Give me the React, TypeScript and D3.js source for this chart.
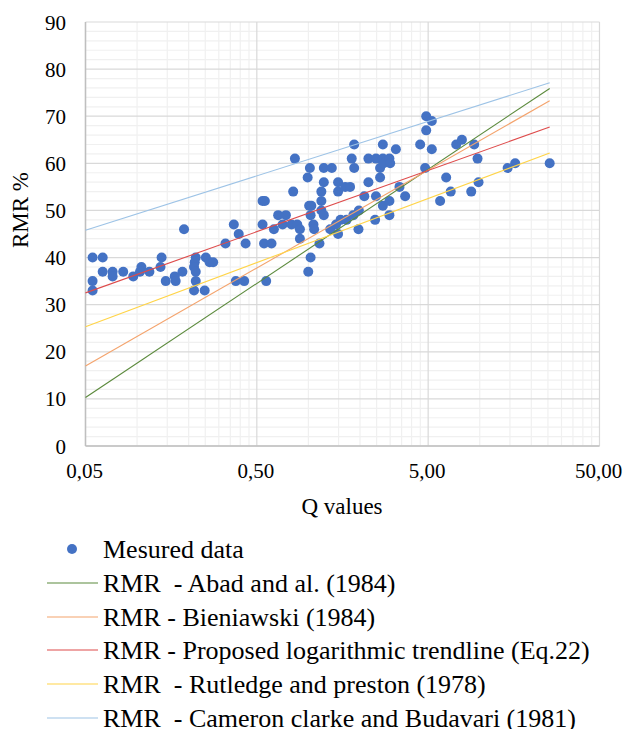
import React from 'react';
import * as d3 from 'd3';

// measured points (Q, RMR)
const qValues = [
  0.055, 0.063, 0.063, 0.072, 0.072, 0.083, 0.055, 0.055, 0.095, 0.106,
  0.104, 0.118, 0.139, 0.137, 0.147, 0.166, 0.168, 0.184, 0.188, 0.22,
  0.217, 0.215, 0.22, 0.22, 0.215, 0.248, 0.252, 0.265, 0.278, 0.328,
  0.367, 0.392, 0.43, 0.377, 0.422, 0.567, 0.54, 0.557, 0.54, 0.551,
  0.609, 0.629, 0.666, 0.739, 0.707, 0.797, 0.834, 0.815, 0.861, 0.892,
  0.892, 0.998, 1.03, 0.99, 1.02, 1.01, 1.04, 1.03, 1.07, 1.08,
  1.16, 1.19, 1.19, 1.19, 1.23, 1.23, 1.23, 1.34, 1.37, 1.45,
  1.49, 1.49, 1.49, 1.54, 1.64, 1.67, 1.75, 1.79, 1.83, 1.85,
  1.85, 1.96, 1.97, 2.12, 2.24, 2.24, 2.45, 2.48, 2.48, 2.62,
  2.62, 2.72, 2.72, 2.75, 2.72, 2.97, 3.0, 2.97, 2.97, 3.24,
  3.4, 3.67, 4.49, 4.87, 5.25, 4.87, 4.8, 5.25, 5.87, 6.37,
  6.77, 7.29, 7.87, 8.92, 9.28, 9.71, 9.84, 14.55, 16.1, 25.6,
];
const rmrValues = [
  40, 40, 37, 37, 36, 37, 35, 33, 36, 38,
  37, 37, 40, 38, 35, 36, 35, 37, 46, 40,
  39, 38, 37, 35, 33, 33, 40, 39, 39, 43,
  47, 45, 43, 35, 35, 35, 52, 52, 47, 43,
  43, 46, 49, 49, 47, 47, 61, 54, 47, 46,
  44, 37, 40, 57, 59, 51, 51, 49, 47, 46,
  43, 52, 50, 54, 49, 59, 56, 46, 59, 47,
  45, 56, 54, 48, 55, 48, 55, 61, 49, 64,
  59, 46, 50, 53, 61, 56, 48, 61, 53, 59,
  57, 64, 61, 60, 51, 61, 60, 52, 49, 63,
  55, 53, 64, 70, 69, 67, 59, 63, 52, 57,
  54, 64, 65, 54, 64, 61, 56, 59, 60, 60,
];

// model lines, RMR read at both ends of the Q range
const lineQ = [0.05, 25.6];
const abadRMR = [10.3, 75.9];
const bieniawskiRMR = [17.0, 73.3];
const proposedRMR = [32.5, 67.7];
const rutledgeRMR = [25.3, 62.2];
const cameronRMR = [45.8, 77.1];

const xTicks = [0.05, 0.5, 5, 50];
const yTicks = [0, 10, 20, 30, 40, 50, 60, 70, 80, 90];

const legendLabels = [
  'Mesured data',
  'RMR  - Abad and al. (1984)',
  'RMR - Bieniawski (1984)',
  'RMR - Proposed logarithmic trendline (Eq.22)',
  'RMR  - Rutledge and preston (1978)',
  'RMR  - Cameron clarke and Budavari (1981)',
];

const FONT = "'Liberation Serif', 'DejaVu Serif', serif";
const DOT = '#4472C4';

const App: React.FC = () => {
  const width = 625;
  const height = 729;
  const plot = { left: 85.5, right: 599.5, top: 22, bottom: 446 };

  const x = d3.scaleLog().domain([0.05, 50]).range([plot.left, plot.right]);
  const y = d3.scaleLinear().domain([0, 90]).range([plot.bottom, plot.top]);

  const minorX: number[] = [];
  xTicks.slice(0, -1).forEach(d => {
    for (let k = 2; k <= 9; k++) minorX.push(d * k);
  });
  const minorY = d3.range(0, 91, 2).filter(v => v % 10 !== 0);

  const models = [
    { vals: abadRMR, color: '#5B8A3C' },
    { vals: bieniawskiRMR, color: '#F4A36C' },
    { vals: proposedRMR, color: '#DE4B4B' },
    { vals: rutledgeRMR, color: '#FFD448' },
    { vals: cameronRMR, color: '#9DC3E6' },
  ];

  const line = d3.line<[number, number]>()
    .x(d => x(d[0]))
    .y(d => y(d[1]));

  const fmt = (v: number) => v.toFixed(2).replace('.', ',');

  const legendY = [549, 583, 617, 650, 684, 718];
  const txt = { fontFamily: FONT, fill: '#000' };

  return (
    <div style={{ position: 'absolute', left: 0, top: 0 }}>
      <svg width={width} height={height} style={{ display: 'block', background: '#fff' }}>
        {/* minor grid */}
        {minorY.map(v => (
          <line key={'my' + v} x1={plot.left} x2={plot.right} y1={y(v)} y2={y(v)} stroke="#F0F0F0" strokeWidth={1.2} />
        ))}
        {minorX.map(v => (
          <line key={'mx' + v} x1={x(v)} x2={x(v)} y1={plot.top} y2={plot.bottom} stroke="#F0F0F0" strokeWidth={1.2} />
        ))}
        {/* major grid */}
        {yTicks.map(v => (
          <line key={'gy' + v} x1={plot.left} x2={plot.right} y1={y(v)} y2={y(v)} stroke="#D9D9D9" strokeWidth={1.2} />
        ))}
        {xTicks.map(v => (
          <line key={'gx' + v} x1={x(v)} x2={x(v)} y1={plot.top} y2={plot.bottom} stroke="#D9D9D9" strokeWidth={1.2} />
        ))}
        {/* axes */}
        <line x1={plot.left} x2={plot.left} y1={plot.top} y2={plot.bottom} stroke="#BFBFBF" strokeWidth={1.5} />
        <line x1={plot.left} x2={plot.right} y1={plot.bottom} y2={plot.bottom} stroke="#BFBFBF" strokeWidth={1.5} />

        {/* points */}
        {qValues.map((q, i) => (
          <circle key={'p' + i} cx={x(q)} cy={y(rmrValues[i])} r={5} fill={DOT} />
        ))}

        {/* model lines */}
        {models.map((m, i) => (
          <path
            key={'l' + i}
            d={line(lineQ.map((q, j) => [q, m.vals[j]] as [number, number])) || ''}
            fill="none"
            stroke={m.color}
            strokeWidth={1.1}
          />
        ))}

        {/* tick labels */}
        {yTicks.map(v => (
          <text key={'ty' + v} x={66} y={y(v) + 7.5} textAnchor="end" fontSize={21} style={txt}>
            {v}
          </text>
        ))}
        {xTicks.map(v => (
          <text key={'tx' + v} x={x(v) - 1} y={478} textAnchor="middle" fontSize={21} style={txt}>
            {fmt(v)}
          </text>
        ))}

        {/* axis titles */}
        <text x={342} y={514} textAnchor="middle" fontSize={23} style={txt}>Q values</text>
        <text transform="translate(28,210) rotate(-90)" textAnchor="middle" fontSize={23} style={txt}>
          RMR %
        </text>

        {/* legend */}
        <circle cx={72} cy={legendY[0]} r={5} fill={DOT} />
        {models.map((m, i) => (
          <line key={'lg' + i} x1={47} x2={98} y1={legendY[i + 1]} y2={legendY[i + 1]} stroke={m.color} strokeWidth={1.2} />
        ))}
        {legendLabels.map((t, i) => (
          <text
            key={'lt' + i}
            x={103}
            y={legendY[i] + 9}
            fontSize={26}
            style={{ ...txt, whiteSpace: 'pre' }}
          >
            {t}
          </text>
        ))}
      </svg>
    </div>
  );
};

export default App;
